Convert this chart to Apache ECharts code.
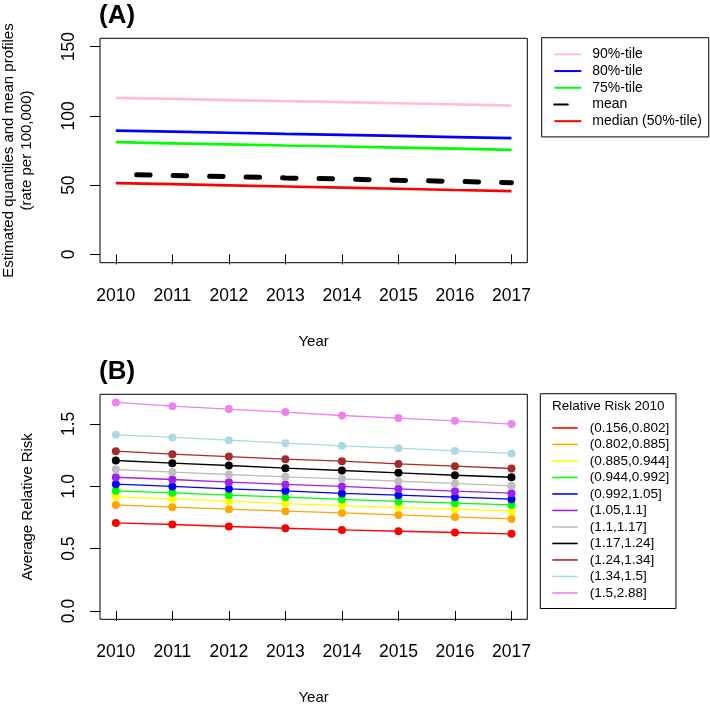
<!DOCTYPE html>
<html><head><meta charset="utf-8">
<script src="https://cdn.jsdelivr.net/npm/echarts@6/dist/echarts.min.js"></script>
<style>html,body{margin:0;padding:0;background:#fff}#c{width:710px;height:704px}</style>
</head><body><div id="c"></div>
<script>
// ---- data ----
const years = [2010, 2011, 2012, 2013, 2014, 2015, 2016, 2017];
const quantNames = ['90%-tile', '80%-tile', '75%-tile', 'mean', 'median (50%-tile)'];
const q90 = [113.0, 112.2, 111.4, 110.6, 109.9, 109.1, 108.3, 107.5];
const q80 = [89.4, 88.6, 87.8, 87.0, 86.3, 85.5, 84.7, 83.9];
const q75 = [81.0, 80.2, 79.4, 78.6, 77.9, 77.1, 76.3, 75.5];
const qMean = [57.8, 56.9, 56.1, 55.2, 54.4, 53.5, 52.7, 51.8];
const q50 = [51.5, 50.7, 49.8, 49.0, 48.2, 47.4, 46.5, 45.7];
const yTicksA = [0, 50, 100, 150];

const rrNames = ['(0.156,0.802]', '(0.802,0.885]', '(0.885,0.944]', '(0.944,0.992]', '(0.992,1.05]',
  '(1.05,1.1]', '(1.1,1.17]', '(1.17,1.24]', '(1.24,1.34]', '(1.34,1.5]', '(1.5,2.88]'];
const rr1 = [0.706, 0.693, 0.677, 0.663, 0.650, 0.639, 0.629, 0.618];
const rr2 = [0.850, 0.832, 0.816, 0.800, 0.786, 0.770, 0.754, 0.738];
const rr3 = [0.915, 0.898, 0.880, 0.861, 0.845, 0.829, 0.816, 0.800];
const rr4 = [0.963, 0.947, 0.928, 0.912, 0.894, 0.878, 0.864, 0.850];
const rr5 = [1.016, 0.998, 0.979, 0.963, 0.942, 0.928, 0.912, 0.896];
const rr6 = [1.072, 1.054, 1.032, 1.014, 0.998, 0.979, 0.960, 0.944];
const rr7 = [1.134, 1.113, 1.094, 1.075, 1.059, 1.040, 1.022, 1.003];
const rr8 = [1.206, 1.185, 1.166, 1.145, 1.126, 1.107, 1.088, 1.072];
const rr9 = [1.281, 1.257, 1.238, 1.217, 1.201, 1.179, 1.161, 1.142];
const rr10 = [1.412, 1.391, 1.369, 1.345, 1.324, 1.305, 1.283, 1.263];
const rr11 = [1.672, 1.642, 1.618, 1.594, 1.567, 1.546, 1.524, 1.498];
const yTicksB = [0, 0.5, 1.0, 1.5];

// ---- styles ----
const FONT = '"Liberation Sans", Arial, Helvetica, sans-serif';
const quantColors = ['#FFC0CB', '#0000FF', '#00FF00', '#000000', '#FF0000'];
const rrColors = ['#FF0000', '#FFA500', '#FFFF00', '#00FF00', '#0000FF', '#A020F0',
  '#BEBEBE', '#000000', '#A52A2A', '#ADD8E6', '#EE82EE'];
const quantData = [q90, q80, q75, qMean, q50];
const rrData = [rr1, rr2, rr3, rr4, rr5, rr6, rr7, rr8, rr9, rr10, rr11];

function pairs(vals) { return years.map((y, i) => [y, vals[i]]); }

function xAxis(gi) {
  return {
    type: 'value', gridIndex: gi, min: 2009.72, max: 2017.28,
    name: 'Year', nameLocation: 'middle', nameGap: 71.5,
    nameTextStyle: { fontSize: 15, color: '#000', fontFamily: FONT },
    axisLine: { show: false },
    axisTick: { show: true, length: 10, lineStyle: { color: '#000', width: 1 }, customValues: years },
    axisLabel: { customValues: years, fontSize: 17.5, color: '#000', fontFamily: FONT, margin: 24,
      formatter: v => String(v) },
    splitLine: { show: false }
  };
}
function yAxis(gi, min, max, ticks, name, gap, fmt) {
  return {
    type: 'value', gridIndex: gi, min: min, max: max,
    name: name, nameLocation: 'middle', nameGap: gap, nameRotate: 90,
    nameTextStyle: { fontSize: 15, color: '#000', fontFamily: FONT, lineHeight: 18 },
    axisLine: { show: false },
    axisTick: { show: true, length: 10, lineStyle: { color: '#000', width: 1 }, customValues: ticks },
    axisLabel: { customValues: ticks, rotate: 90, fontSize: 17.5, color: '#000', fontFamily: FONT, margin: 22,
      formatter: fmt },
    splitLine: { show: false }
  };
}

const series = [];
quantNames.forEach((n, i) => {
  const isMean = n === 'mean';
  series.push({
    type: 'line', name: n, xAxisIndex: 0, yAxisIndex: 0, data: pairs(quantData[i]),
    symbol: 'none', color: quantColors[i],
    lineStyle: isMean ? { color: '#000', width: 5, type: [13.5, 23], dashOffset: 15.7, cap: 'round' }
                      : { color: quantColors[i], width: 2.7 },
    emphasis: { disabled: true }, animation: false
  });
});
rrNames.forEach((n, i) => {
  series.push({
    type: 'line', name: n, xAxisIndex: 1, yAxisIndex: 1, data: pairs(rrData[i]),
    symbol: 'circle', symbolSize: 8, color: rrColors[i],
    itemStyle: { color: rrColors[i] },
    lineStyle: { color: rrColors[i], width: 1.3 },
    emphasis: { disabled: true }, animation: false
  });
});

const legendA = quantNames.map(n => n === 'mean'
  ? { name: n, lineStyle: { dashOffset: 0 } }
  : { name: n });

const chart = echarts.init(document.getElementById('c'), null, { renderer: 'canvas' });
chart.setOption({
  animation: false,
  backgroundColor: '#fff',
  textStyle: { fontFamily: FONT },
  title: [
    { text: '(A)', left: 99, top: 2.5, padding: 0, textStyle: { fontSize: 26, fontWeight: 'bold', color: '#000', fontFamily: FONT } },
    { text: '(B)', left: 99, top: 358.5, padding: 0, textStyle: { fontSize: 26, fontWeight: 'bold', color: '#000', fontFamily: FONT } },
    { text: 'Relative Risk 2010', left: 552, top: 399, padding: 0, textStyle: { fontSize: 13.5, fontWeight: 'normal', color: '#000', fontFamily: FONT } }
  ],
  grid: [
    { left: 100, top: 38.3, width: 427.3, height: 224.4, show: true, borderColor: '#000', borderWidth: 1,
      backgroundColor: 'transparent', containLabel: false, outerBoundsMode: 'none' },
    { left: 100, top: 394.3, width: 427.3, height: 225, show: true, borderColor: '#000', borderWidth: 1,
      backgroundColor: 'transparent', containLabel: false, outerBoundsMode: 'none' }
  ],
  xAxis: [xAxis(0), xAxis(1)],
  yAxis: [
    yAxis(0, -6, 156, yTicksA, 'Estimated quantiles and mean profiles\n(rate per 100,000)', 64, v => String(v)),
    yAxis(1, -0.0668, 1.7368, yTicksB, 'Average Relative Risk', 63, v => v.toFixed(1))
  ],
  legend: [
    {
      data: legendA, orient: 'vertical', left: 541.7, top: 37.7,
      padding: [8.3, 6.7, 7.4, 11.6], itemGap: 0, itemWidth: 27, itemHeight: 10,
      itemStyle: { opacity: 0 },
      borderColor: '#000', borderWidth: 1, selectedMode: false,
      textStyle: { fontSize: 14, color: '#000', fontFamily: FONT, lineHeight: 16.7, padding: [0, 0, 0, 6] }
    },
    {
      data: rrNames, orient: 'vertical', left: 540.3, top: 393.7,
      padding: [26, 6.7, 7.3, 12], itemGap: 0, itemWidth: 25.4, itemHeight: 1.6, icon: 'rect',
      borderColor: '#000', borderWidth: 1, selectedMode: false,
      textStyle: { fontSize: 13.5, color: '#000', fontFamily: FONT, lineHeight: 16.5, padding: [0, 0, 0, 7] }
    }
  ],
  series: series
});
</script>
</body></html>
